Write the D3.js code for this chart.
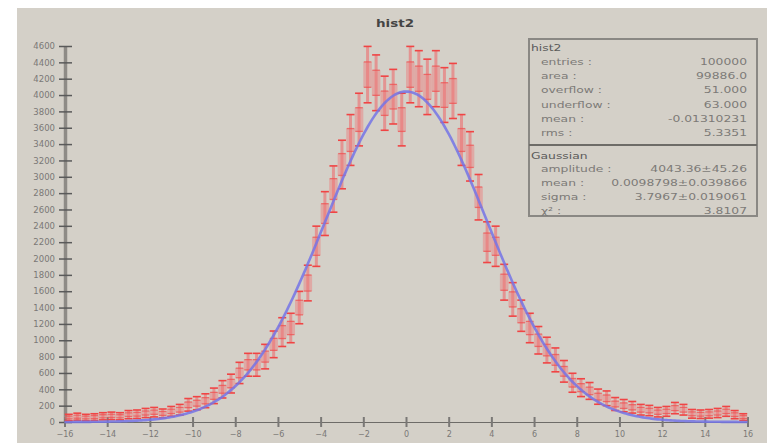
<!DOCTYPE html>
<html>
<head>
<meta charset="utf-8">
<script src="https://cdn.jsdelivr.net/npm/d3@7"></script>
<style>
  html, body { margin: 0; padding: 0; background: #fff; }
  svg { display: block; font-family: "DejaVu Sans", sans-serif; }
</style>
</head>
<body>
<svg width="767" height="443"></svg>
<script>
// histogram: 80 bins of 0.4 from -16 to 16
const binStart = -16;
const binWidth = 0.4;

const counts = [
  55, 65, 55, 60, 70, 75, 70, 90, 95, 110,
  120, 105, 130, 150, 210, 230, 260, 320, 400, 470,
  600, 700, 700, 800, 950, 1100, 1150, 1400, 1700, 2150,
  2550, 2850, 3150, 3450, 3700, 4250, 4150, 3900, 3980, 3700,
  4250, 4200, 4100, 4200, 4000, 4050, 3450, 3250, 2750, 2200,
  2150, 1710, 1500, 1300, 1150, 1000, 880, 760, 620, 480,
  420, 380, 310, 290, 220, 200, 180, 150, 140, 120,
  130, 170, 150, 100, 95, 100, 110, 130, 90, 60
];

const errors = [
  39, 43, 39, 41, 44, 46, 44, 50, 52, 56,
  58, 54, 60, 65, 77, 80, 85, 95, 106, 115,
  130, 140, 140, 150, 163, 176, 180, 198, 218, 246,
  268, 283, 297, 311, 322, 345, 341, 331, 334, 322,
  345, 343, 339, 343, 335, 337, 311, 302, 278, 249,
  246, 219, 205, 191, 180, 168, 157, 146, 132, 116,
  109, 103, 93, 90, 79, 75, 71, 65, 63, 58,
  60, 69, 65, 53, 52, 53, 56, 60, 50, 41
];

const xTicks = [-16, -14, -12, -10, -8, -6, -4, -2, 0, 2, 4, 6, 8, 10, 12, 14, 16];
const yTicks = [0, 200, 400, 600, 800, 1000, 1200, 1400, 1600, 1800, 2000, 2200,
  2400, 2600, 2800, 3000, 3200, 3400, 3600, 3800, 4000, 4200, 4400, 4600];

const statNames = ['entries :', 'area :', 'overflow :', 'underflow :', 'mean :', 'rms :'];
const statValues = ['100000', '99886.0', '51.000', '63.000', '-0.01310231', '5.3351'];

const fitNames = ['amplitude :', 'mean :', 'sigma :', 'χ² :'];
const fitValues = ['4043.36±45.26', '0.0098798±0.039866', '3.7967±0.019061', '3.8107'];

// fitted gaussian parameters
const fitAmplitude = 4043.36;
const fitMean = 0.0098798;
const fitSigma = 3.7967;

const svg = d3.select('svg');

svg.append('rect')
    .attr('x', 17).attr('y', 8)
    .attr('width', 750).attr('height', 435)
    .attr('fill', '#d4d0c8');

const x = d3.scaleLinear().domain([-16, 16]).range([64.5, 747.5]);
const y = d3.scaleLinear().domain([0, 4600]).range([422, 46]);

// title
svg.append('text')
    .attr('transform', 'translate(395,27) scale(1.35,1)')
    .attr('text-anchor', 'middle')
    .attr('font-size', 10)
    .attr('font-weight', 'bold')
    .attr('fill', '#444')
    .text('hist2');

// y axis
const yAxis = svg.append('g')
    .attr('transform', 'translate(65,0)')
    .call(d3.axisLeft(y).tickValues(yTicks).tickFormat(d3.format('d'))
      .tickSizeInner(6).tickSizeOuter(0).tickPadding(4));
yAxis.select('.domain').attr('stroke', '#8e8b86').attr('stroke-width', 3.5);
yAxis.selectAll('.tick line').attr('x1', 7).attr('stroke', '#5a5a5a').attr('stroke-width', 1.5);
yAxis.selectAll('.tick text')
    .attr('font-size', 8.5)
    .attr('fill', '#7a7876')
    .attr('font-family', 'DejaVu Sans, sans-serif');

// x axis
const xAxis = svg.append('g')
    .attr('transform', 'translate(0,422)')
    .call(d3.axisBottom(x).tickValues(xTicks).tickSizeInner(5).tickSizeOuter(0).tickPadding(4));
xAxis.select('.domain').attr('stroke', '#6e6c68').attr('stroke-width', 1);
xAxis.selectAll('.tick line').attr('y1', -5).attr('stroke', '#7a7876').attr('stroke-width', 2);
xAxis.selectAll('.tick text')
    .attr('font-size', 8)
    .attr('fill', '#7a7876')
    .attr('font-family', 'DejaVu Sans, sans-serif');

// histogram
const bins = counts.map((c, i) => ({
  x0: binStart + i * binWidth,
  x1: binStart + (i + 1) * binWidth,
  v: c,
  e: errors[i]
}));

const hist = svg.append('g');

hist.selectAll('line.bar')
  .data(bins)
  .join('line')
    .attr('x1', d => x((d.x0 + d.x1) / 2))
    .attr('x2', d => x((d.x0 + d.x1) / 2))
    .attr('y1', d => y(d.v - d.e))
    .attr('y2', d => y(d.v + d.e))
    .attr('stroke', '#ea7a7a')
    .attr('stroke-opacity', 0.7)
    .attr('stroke-width', 3);

hist.selectAll('rect')
  .data(bins)
  .join('rect')
    .attr('x', d => x(d.x0))
    .attr('width', d => x(d.x1) - x(d.x0))
    .attr('y', d => y(d.v + d.e * 0.45))
    .attr('height', d => y(d.v - d.e * 0.45) - y(d.v + d.e * 0.45))
    .attr('fill', '#ee7a7a')
    .attr('fill-opacity', 0.45);

const edges = bins.flatMap(d => [
  { x0: d.x0, x1: d.x1, v: d.v + d.e * 0.45 },
  { x0: d.x0, x1: d.x1, v: d.v - d.e * 0.45 }
]);
hist.selectAll('line.edge')
  .data(edges)
  .join('line')
    .attr('x1', d => x(d.x0) + 0.5)
    .attr('x2', d => x(d.x1) - 0.5)
    .attr('y1', d => y(d.v))
    .attr('y2', d => y(d.v))
    .attr('stroke', '#ef5050')
    .attr('stroke-opacity', 0.75)
    .attr('stroke-width', 1.3);

const caps = bins.flatMap(d => [
  { c: (d.x0 + d.x1) / 2, v: d.v + d.e },
  { c: (d.x0 + d.x1) / 2, v: d.v - d.e }
]);
hist.selectAll('line.cap')
  .data(caps)
  .join('line')
    .attr('x1', d => x(d.c) - 4)
    .attr('x2', d => x(d.c) + 4)
    .attr('y1', d => y(d.v))
    .attr('y2', d => y(d.v))
    .attr('stroke', '#f04444')
    .attr('stroke-width', 1.6);

// fit curve
const curve = d3.range(-16, 16.001, 0.1).map(v => ({
  v,
  f: fitAmplitude * Math.exp(-((v - fitMean) ** 2) / (2 * fitSigma * fitSigma))
}));

svg.append('path')
    .datum(curve)
    .attr('fill', 'none')
    .attr('stroke', '#7474e6')
    .attr('stroke-opacity', 0.85)
    .attr('stroke-width', 2.6)
    .attr('d', d3.line().x(d => x(d.v)).y(d => y(d.f)));

// stats box
const box = svg.append('g');
box.append('rect')
    .attr('x', 529).attr('y', 39)
    .attr('width', 228).attr('height', 177)
    .attr('fill', '#d4d0c8')
    .attr('stroke', '#8a8884')
    .attr('stroke-width', 2);
box.append('line')
    .attr('x1', 529).attr('x2', 757)
    .attr('y1', 145).attr('y2', 145)
    .attr('stroke', '#6e6c68')
    .attr('stroke-width', 2);

function boxText(tx, ty, str, anchor, color) {
  box.append('text')
      .attr('transform', `translate(${tx},${ty}) scale(1.3,1)`)
      .attr('text-anchor', anchor)
      .attr('font-size', 9.5)
      .attr('fill', color)
      .text(str);
}

boxText(531, 51, 'hist2', 'start', '#5a5a5a');
statNames.forEach((s, i) => {
  boxText(541, 65 + i * 14.2, s, 'start', '#7c7a77');
  boxText(747, 65 + i * 14.2, statValues[i], 'end', '#7c7a77');
});

boxText(531, 159, 'Gaussian', 'start', '#5a5a5a');
fitNames.forEach((s, i) => {
  boxText(541, 172 + i * 14, s, 'start', '#7c7a77');
  boxText(747, 172 + i * 14, fitValues[i], 'end', '#7c7a77');
});
</script>
</body>
</html>
